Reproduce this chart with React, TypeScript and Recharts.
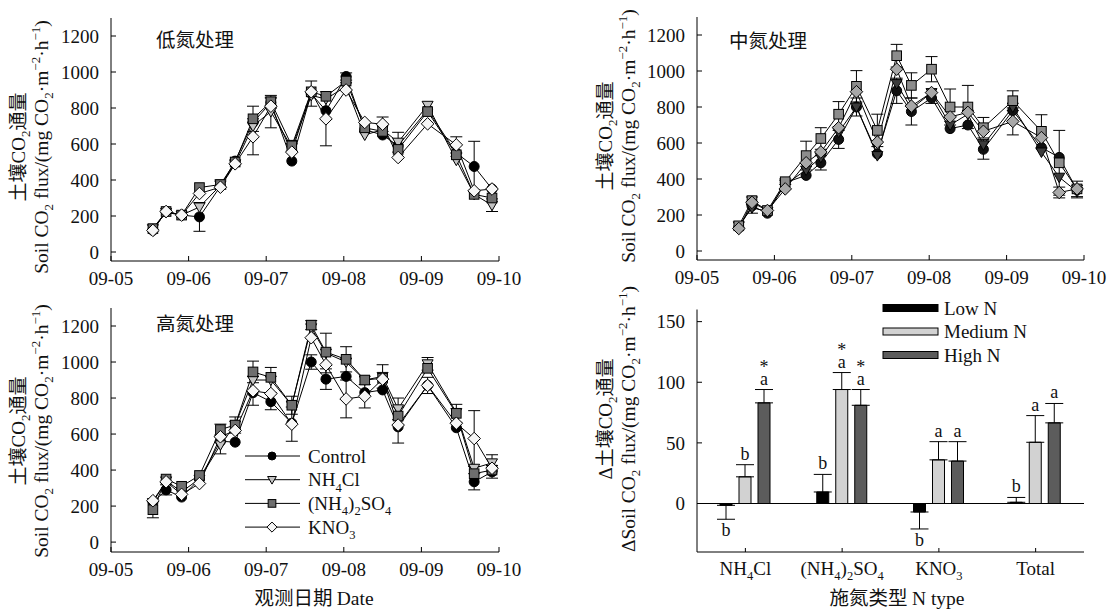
import React from 'react';
import {
  Bar,
  BarChart,
  ErrorBar,
  LabelList,
  Legend,
  Line,
  LineChart,
  ReferenceLine,
  XAxis,
  YAxis,
} from 'recharts';

const SERIF = "'Liberation Serif', 'Times New Roman', serif";
const CJK = "'Noto Sans CJK SC', 'Noto Sans CJK JP', sans-serif";
const INK = '#111';

// sampling times (day of September)
const times = [5.54, 5.71, 5.91, 6.14, 6.41, 6.6, 6.83, 7.06, 7.33, 7.58, 7.77, 8.03, 8.27, 8.5, 8.7, 9.08, 9.45, 9.68, 9.91];
const dateTicks = [5, 6, 7, 8, 9, 10];
const dateLabels = ['09-05', '09-06', '09-07', '09-08', '09-09', '09-10'];
const fluxTicks = [0, 200, 400, 600, 800, 1000, 1200];
const seriesNames = ['Control', 'NH4Cl', '(NH4)2SO4', 'KNO3'];
const markerKinds = ['circle', 'tri', 'square', 'diamond'];

// low N
const lowControl = [120, 225, 205, 195, 365, 505, 720, 830, 505, 880, 785, 975, 680, 650, 590, 790, 550, 475, 350];
const lowNH4Cl = [130, 220, 205, 250, 370, 490, 700, 780, 580, 870, 850, 920, 650, 680, 610, 815, 510, 320, 260];
const lowSO4 = [130, 225, 205, 358, 375, 500, 740, 835, 590, 890, 865, 950, 690, 670, 570, 780, 540, 320, 300];
const lowKNO3 = [120, 225, 205, 325, 360, 490, 640, 810, 555, 890, 740, 900, 720, 710, 525, 712, 595, 340, 350];
const lowControlErr = [0, 0, 0, 80, 0, 0, 0, 30, 0, 70, 0, 20, 0, 0, 0, 0, 0, 140, 0];
const lowNH4ClErr = [0, 0, 0, 0, 0, 0, 0, 90, 0, 0, 0, 0, 0, 0, 55, 0, 0, 0, 35];
const lowSO4Err = [0, 0, 0, 0, 25, 0, 70, 20, 30, 0, 0, 0, 0, 0, 0, 0, 0, 0, 0];
const lowKNO3Err = [0, 0, 0, 0, 0, 0, 100, 0, 0, 0, 150, 0, 0, 40, 0, 0, 45, 0, 0];

// medium N
const midControl = [130, 250, 210, 380, 420, 490, 620, 800, 540, 890, 775, 850, 680, 700, 565, 780, 575, 520, 340];
const midNH4Cl = [140, 240, 220, 370, 450, 520, 660, 800, 530, 930, 790, 880, 700, 760, 590, 800, 550, 410, 330];
const midSO4 = [140, 280, 225, 385, 530, 625, 760, 915, 670, 1085, 920, 1010, 800, 800, 685, 835, 665, 490, 345];
const midKNO3 = [125, 270, 225, 345, 490, 550, 685, 885, 605, 1010, 805, 880, 745, 770, 665, 720, 630, 325, 345];
const midControlErr = [0, 0, 0, 0, 0, 40, 50, 50, 0, 70, 75, 30, 0, 0, 55, 0, 0, 0, 0];
const midNH4ClErr = [0, 30, 0, 0, 0, 0, 0, 0, 0, 0, 0, 0, 0, 0, 0, 0, 0, 0, 35];
const midSO4Err = [0, 20, 0, 15, 80, 60, 70, 87, 90, 63, 70, 70, 100, 120, 57, 55, 92, 180, 43];
const midKNO3Err = [0, 0, 0, 0, 0, 0, 0, 0, 0, 0, 0, 0, 0, 0, 0, 75, 0, 30, 0];

// high N
const highControl = [220, 290, 250, 350, 560, 555, 830, 780, 660, 1000, 905, 920, 830, 845, 640, 870, 635, 335, 390];
const highNH4Cl = [220, 340, 280, 350, 540, 650, 900, 900, 760, 1190, 1050, 1000, 900, 920, 740, 990, 720, 410, 440];
const highSO4 = [180, 350, 310, 370, 625, 650, 945, 915, 760, 1205, 1055, 1015, 900, 910, 700, 965, 715, 380, 400];
const highKNO3 = [230, 335, 265, 325, 585, 620, 840, 825, 655, 1135, 985, 795, 810, 905, 650, 870, 660, 575, 410];
const highControlErr = [0, 28, 0, 0, 0, 0, 0, 45, 0, 40, 57, 0, 0, 0, 0, 0, 0, 45, 35];
const highNH4ClErr = [0, 0, 0, 0, 50, 45, 0, 70, 0, 0, 110, 0, 0, 65, 60, 35, 0, 0, 45];
const highSO4Err = [45, 0, 0, 0, 30, 0, 60, 0, 50, 25, 0, 70, 0, 0, 0, 0, 50, 0, 0];
const highKNO3Err = [0, 0, 0, 0, 0, 0, 80, 0, 95, 0, 0, 105, 65, 0, 100, 45, 0, 155, 0];

// delta flux by N type
const nTypes = ['NH4Cl', '(NH4)2SO4', 'KNO3', 'Total'];
const lowN = [-1.5, 9.5, -7, 1];
const medN = [22, 94, 36, 50.5];
const highN = [83, 81, 35, 66.5];
const lowNErr = [11.5, 14.5, 14, 4];
const medNErr = [10, 14, 15, 22];
const highNErr = [11, 13, 16, 16];
const lowNSig = ['b', 'b', 'b', 'b'];
const medNSig = ['b', 'a', 'a', 'a'];
const highNSig = ['a', 'a', 'a', 'a'];
const medNStar = [false, true, false, false];
const highNStar = [true, true, false, false];
const nLevels = ['Low N', 'Medium N', 'High N'];

const fillsLow = ['#000', '#c4c4c4', '#6e6e6e', '#f6f6f6'];
const fillsMid = ['#111', '#3c3c3c', '#8c8c8c', '#a8a8a8'];
const barFills = ['#000', '#d2d2d2', '#5c5c5c'];

const buildSeries = (c, n, s, k, ce, ne, se, ke) =>
  times.map((t, i) => ({ t, c: c[i], n: n[i], s: s[i], k: k[i], ce: ce[i], ne: ne[i], se: se[i], ke: ke[i] }));

const lowData = buildSeries(lowControl, lowNH4Cl, lowSO4, lowKNO3, lowControlErr, lowNH4ClErr, lowSO4Err, lowKNO3Err);
const midData = buildSeries(midControl, midNH4Cl, midSO4, midKNO3, midControlErr, midNH4ClErr, midSO4Err, midKNO3Err);
const highData = buildSeries(highControl, highNH4Cl, highSO4, highKNO3, highControlErr, highNH4ClErr, highSO4Err, highKNO3Err);

const barData = nTypes.map((type, i) => ({
  type,
  low: lowN[i],
  med: medN[i],
  high: highN[i],
  lowE: lowN[i] < 0 ? [lowNErr[i], 0] : [0, lowNErr[i]],
  medE: [0, medNErr[i]],
  highE: [0, highNErr[i]],
}));

// chemical formula -> digits as subscripts
function chem(label, size) {
  const parts = label.match(/\d+|\D+/g) || [];
  let sub = false;
  return parts.map((p, i) => {
    const isNum = /\d/.test(p);
    const dy = isNum && !sub ? size * 0.28 : !isNum && sub ? -size * 0.28 : 0;
    sub = isNum;
    return (
      <tspan key={i} dy={dy} fontSize={isNum ? size * 0.66 : size}>
        {p}
      </tspan>
    );
  });
}

function Marker({ kind, cx, cy, fill, s = 1 }) {
  if (cx == null || cy == null) return null;
  const st = { stroke: '#000', strokeWidth: 1 };
  if (kind === 'circle') return <circle cx={cx} cy={cy} r={5 * s} fill={fill} {...st} />;
  if (kind === 'tri')
    return <path d={`M${cx - 5.5 * s},${cy - 4 * s}L${cx + 5.5 * s},${cy - 4 * s}L${cx},${cy + 5.5 * s}Z`} fill={fill} {...st} />;
  if (kind === 'square') return <rect x={cx - 4.8 * s} y={cy - 4.8 * s} width={9.6 * s} height={9.6 * s} fill={fill} {...st} />;
  return <path d={`M${cx},${cy - 6.3 * s}L${cx + 6.3 * s},${cy}L${cx},${cy + 6.3 * s}L${cx - 6.3 * s},${cy}Z`} fill={fill} {...st} />;
}

const LineLegend = ({ fills }) => (
  <svg width={170} height={100}>
    {seriesNames.map((name, i) => {
      const y = 12 + i * 23.7;
      return (
        <g key={name}>
          <line x1={5} x2={60} y1={y} y2={y} stroke="#000" strokeWidth={1} />
          <Marker kind={markerKinds[i]} cx={32} cy={y} fill={fills[i]} s={0.8} />
          <text x={68} y={y + 6.5} fontFamily={SERIF} fontSize={19} fill={INK}>
            {chem(name, 19)}
          </text>
        </g>
      );
    })}
  </svg>
);

const BarLegend = () => (
  <svg width={170} height={75}>
    {nLevels.map((name, i) => {
      const y = 13 + i * 23.5;
      return (
        <g key={name}>
          <rect x={5} y={y - 3.5} width={55} height={7} fill={barFills[i]} stroke="#000" strokeWidth={1} />
          <text x={66} y={y + 6.5} fontFamily={SERIF} fontSize={19} fill={INK}>
            {name}
          </text>
        </g>
      );
    })}
  </svg>
);

const tickStyle = { fill: INK, fontSize: 19, fontFamily: SERIF };

function FluxPanel({ data, fills, left, top, width, height, margin, domain, legend }) {
  const keys = ['c', 'n', 's', 'k'];
  return (
    <div style={{ position: 'absolute', left, top }}>
      <LineChart width={width} height={height} data={data} margin={margin}>
        <XAxis
          type="number"
          dataKey="t"
          domain={[5, 10]}
          ticks={dateTicks}
          interval={0}
          tickFormatter={(v) => dateLabels[dateTicks.indexOf(v)]}
          height={28}
          tickSize={-5}
          tickMargin={16}
          tick={tickStyle}
          axisLine={{ stroke: '#000' }}
          tickLine={{ stroke: '#000' }}
        />
        <YAxis
          domain={domain}
          ticks={fluxTicks}
          interval={0}
          width={60}
          tickSize={-5}
          tickMargin={17}
          tick={tickStyle}
          axisLine={{ stroke: '#000' }}
          tickLine={{ stroke: '#000' }}
        />
        {keys.map((k, i) => (
          <Line
            key={k}
            dataKey={k}
            type="linear"
            stroke="#000"
            strokeWidth={1}
            isAnimationActive={false}
            activeDot={false}
            dot={(p) => <Marker key={`${k}-${p.index}`} kind={markerKinds[i]} cx={p.cx} cy={p.cy} fill={fills[i]} />}
          >
            <ErrorBar dataKey={`${k}e`} direction="y" width={6} stroke="#000" strokeWidth={1} />
          </Line>
        ))}
        {legend && (
          <Legend
            layout="vertical"
            align="center"
            verticalAlign="middle"
            content={() => <LineLegend fills={fills} />}
            wrapperStyle={{ left: 240, top: 154, width: 170, height: 100 }}
          />
        )}
      </LineChart>
    </div>
  );
}

// bar panel plot geometry (chart-relative), used to place significance letters
const BAR_TOP = 19.5;
const BAR_BOTTOM = 262;
const barPpu = (BAR_BOTTOM - BAR_TOP) / 200;
const zeroY = BAR_TOP + 160 * barPpu;

const sigLabel = (values, errs, letters, stars) => (p) => {
  const i = p.index;
  if (i == null) return null;
  const vb = p.viewBox || {};
  const x = p.x ?? vb.x;
  const w = p.width ?? vb.width;
  const cx = x + w / 2;
  const v = values[i];
  const e = errs[i];
  const txt = { textAnchor: 'middle', fontFamily: SERIF, fontSize: 18, fill: INK };
  if (v < 0) {
    const yb = zeroY + (-v + e) * barPpu;
    return (
      <text key={`l${i}`} x={cx} y={yb + 17} {...txt}>
        {letters[i]}
      </text>
    );
  }
  const yt = zeroY - (v + e) * barPpu;
  return (
    <text key={`l${i}`} {...txt}>
      {stars && stars[i] ? (
        <tspan x={cx} y={yt - 17}>
          *
        </tspan>
      ) : null}
      <tspan x={cx} y={yt - 5}>
        {letters[i]}
      </tspan>
    </text>
  );
};

const ChemTick = ({ x, y, payload }) => (
  <text x={x} y={y + 13} textAnchor="middle" fontFamily={SERIF} fontSize={19} fill={INK}>
    {chem(payload.value, 19)}
  </text>
);

function DeltaPanel() {
  return (
    <div style={{ position: 'absolute', left: 584, top: 290 }}>
      <BarChart
        width={529}
        height={322}
        data={barData}
        margin={{ top: BAR_TOP, right: 29, bottom: 322 - BAR_BOTTOM - 28, left: 53 }}
        barSize={12}
        barGap={7}
      >
        <XAxis
          dataKey="type"
          interval={0}
          height={28}
          tickSize={-4}
          tickMargin={14}
          tick={(p) => <ChemTick {...p} />}
          axisLine={{ stroke: '#000' }}
          tickLine={{ stroke: '#000' }}
        />
        <YAxis
          domain={[-40, 160]}
          ticks={[0, 50, 100, 150]}
          interval={0}
          width={60}
          tickSize={-5}
          tickMargin={17}
          tick={tickStyle}
          axisLine={{ stroke: '#000' }}
          tickLine={{ stroke: '#000' }}
        />
        <ReferenceLine y={0} stroke="#000" strokeWidth={1} />
        <Bar dataKey="low" fill={barFills[0]} stroke="#000" strokeWidth={1} isAnimationActive={false}>
          <ErrorBar dataKey="lowE" direction="y" width={9} stroke="#000" strokeWidth={1} />
          <LabelList content={sigLabel(lowN, lowNErr, lowNSig, null)} />
        </Bar>
        <Bar dataKey="med" fill={barFills[1]} stroke="#000" strokeWidth={1} isAnimationActive={false}>
          <ErrorBar dataKey="medE" direction="y" width={9} stroke="#000" strokeWidth={1} />
          <LabelList content={sigLabel(medN, medNErr, medNSig, medNStar)} />
        </Bar>
        <Bar dataKey="high" fill={barFills[2]} stroke="#000" strokeWidth={1} isAnimationActive={false}>
          <ErrorBar dataKey="highE" direction="y" width={9} stroke="#000" strokeWidth={1} />
          <LabelList content={sigLabel(highN, highNErr, highNSig, highNStar)} />
        </Bar>
        <Legend
          layout="vertical"
          align="center"
          verticalAlign="middle"
          content={() => <BarLegend />}
          wrapperStyle={{ left: 294, top: 5, width: 170, height: 75 }}
        />
      </BarChart>
    </div>
  );
}

function FluxTitle({ x1, x2, cy, delta }) {
  const sub = 13;
  return (
    <g>
      <text
        transform={`translate(${x1},${cy}) rotate(-90)`}
        textAnchor="middle"
        fontFamily={CJK}
        fontSize={19}
        fill={INK}
      >
        {delta ? <tspan fontFamily={SERIF}>Δ</tspan> : null}
        土壤<tspan fontFamily={SERIF}>CO</tspan>
        <tspan fontFamily={SERIF} fontSize={sub} dy={5}>2</tspan>
        <tspan dy={-5}>通量</tspan>
      </text>
      <text
        transform={`translate(${x2},${cy}) rotate(-90)`}
        textAnchor="middle"
        fontFamily={SERIF}
        fontSize={19.5}
        fill={INK}
      >
        {delta ? 'Δ' : ''}Soil CO<tspan fontSize={sub} dy={5}>2</tspan>
        <tspan dy={-5}> flux/(mg CO</tspan>
        <tspan fontSize={sub} dy={5}>2</tspan>
        <tspan dy={-5}>·m</tspan>
        <tspan fontSize={sub} dy={-8}>−2</tspan>
        <tspan dy={8}>·h</tspan>
        <tspan fontSize={sub} dy={-8}>−1</tspan>
        <tspan dy={8}>)</tspan>
      </text>
    </g>
  );
}

function Titles() {
  return (
    <svg width={1113} height={612} style={{ position: 'absolute', left: 0, top: 0, pointerEvents: 'none' }}>
      <g fontFamily={CJK} fontSize={19.5} fill={INK}>
        <text x={156} y={47}>低氮处理</text>
        <text x={729} y={48}>中氮处理</text>
        <text x={156} y={331}>高氮处理</text>
        <text x={314} y={605} textAnchor="middle">
          观测日期 <tspan fontFamily={SERIF}> Date</tspan>
        </text>
        <text x={897} y={605} textAnchor="middle">
          施氮类型 <tspan fontFamily={SERIF}> N type</tspan>
        </text>
      </g>
      <FluxTitle x1={25} x2={48} cy={147} />
      <FluxTitle x1={612} x2={635} cy={136} />
      <FluxTitle x1={25} x2={48} cy={431} />
      <FluxTitle x1={612} x2={635} cy={419} delta />
    </svg>
  );
}

export default function App() {
  return (
    <div style={{ position: 'absolute', left: 0, top: 0, width: 1113, height: 612, background: '#fff', overflow: 'hidden' }}>
      <FluxPanel
        data={lowData}
        fills={fillsLow}
        left={0}
        top={0}
        width={540}
        height={290}
        margin={{ top: 18, right: 41, bottom: 1, left: 51 }}
        domain={[-50, 1300]}
      />
      <FluxPanel
        data={midData}
        fills={fillsMid}
        left={584}
        top={0}
        width={529}
        height={290}
        margin={{ top: 17, right: 29, bottom: 2, left: 53 }}
        domain={[-50, 1300]}
      />
      <FluxPanel
        data={highData}
        fills={fillsLow}
        left={0}
        top={290}
        width={540}
        height={322}
        margin={{ top: 18, right: 41, bottom: 32, left: 51 }}
        domain={[-55, 1300]}
        legend
      />
      <DeltaPanel />
      <Titles />
    </div>
  );
}
